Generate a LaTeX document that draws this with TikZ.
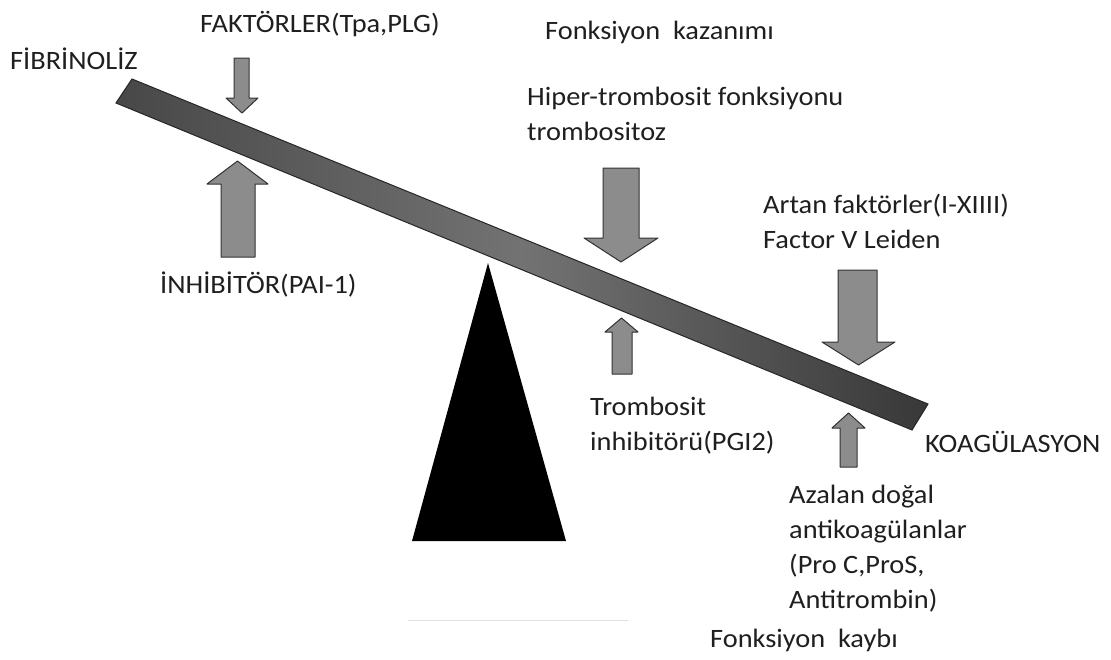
\documentclass[tikz,border=0pt]{standalone}
\usepackage{fontspec}
\setmainfont{Carlito}[FakeStretch=1.07]
\begin{document}
\begin{tikzpicture}[x=1pt,y=-1pt,
  lbl/.style={font=\fontsize{26.5}{35}\selectfont, inner sep=0pt, anchor=base west, align=left, text=black!88},
  blk/.style={fill=black!45, draw=black!80, line width=1pt, line join=round}]
\useasboundingbox[fill=white] (0,0) rectangle (1111,659);
% beam
\path[left color=black!72, right color=black!78, middle color=black!55, draw=black!85, line width=1pt]
  (132,79) -- (928,404) -- (912,430) -- (116,103) -- cycle;
% fulcrum
\fill[black] (488,263) -- (566,541) -- (412,541) -- cycle;
\draw[black!12, line width=1pt] (408,620) -- (628,620);
% block arrows
\newcommand\blkarrow[7]{\draw[blk] (#1,#3) -- (#2,#3) -- (#2,#4) -- (#6,#4) -- ({(#5+#6)/2},#7) -- (#5,#4) -- (#1,#4) -- cycle;}
\blkarrow{234}{249}{58}{98}{226}{258}{113}
\blkarrow{221}{255}{257}{184}{207}{268}{161}
\blkarrow{603}{639}{168}{238}{584}{658}{262}
\blkarrow{612}{632}{374}{332}{605}{638}{318}
\blkarrow{838}{877}{270}{342}{822}{895}{365}
\blkarrow{840}{857}{467}{428}{832}{865}{413}
% texts (anchor = baseline of last line)
\node[lbl] (fib) at (10,69) {FİBRİNOLİZ};
\node[lbl] (fak) at (200,32) {FAKTÖRLER(Tpa,PLG)};
\node[lbl] (inh) at (160,293) {İNHİBİTÖR(PAI-1)};
\node[lbl] (fkaz) at (545,39) {Fonksiyon\ \ kazanımı};
\node[lbl] (hip) at (527,140) {Hiper-trombosit fonksiyonu\\trombositoz};
\node[lbl] (art) at (763,248) {Artan faktörler(I-XIIII)\\Factor V Leiden};
\node[lbl] (tro) at (590,450) {Trombosit\\inhibitörü(PGI2)};
\node[lbl] (koa) at (925,452) {KOAGÜLASYON};
\node[lbl] (aza) at (789,608) {Azalan doğal\\antikoagülanlar\\(Pro C,ProS,\\Antitrombin)};
\node[lbl] (fkay) at (710,647) {Fonksiyon\ \ kaybı};
\end{tikzpicture}
\end{document}
